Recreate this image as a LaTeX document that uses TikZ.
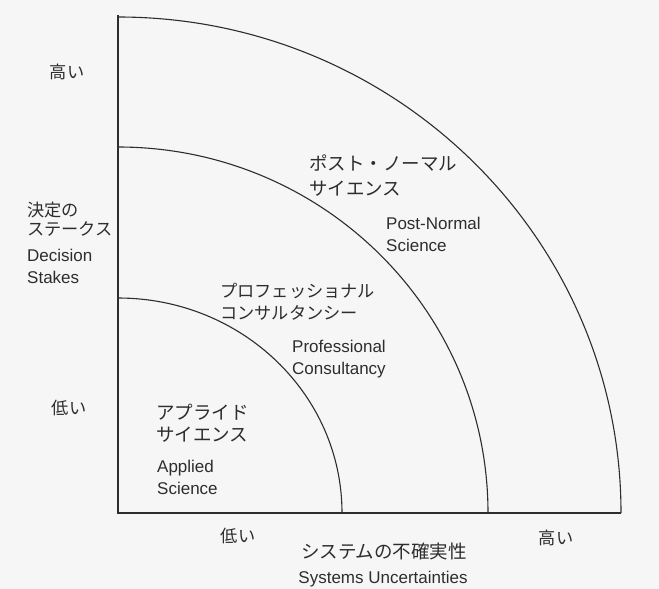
\documentclass[tikz,border=0pt]{standalone}
\usepackage{fontspec}
\setmainfont{Liberation Sans}
\newfontfamily\jp{Noto Sans CJK JP}
\definecolor{ink}{RGB}{45,45,45}
\definecolor{paper}{RGB}{246,246,246}
\begin{document}
\begin{tikzpicture}[x=1pt,y=-1pt,
  lbl/.style={inner sep=0pt, text height=0.72em, text depth=0pt, anchor=west, text=ink, yshift=-2.5pt},
  jl/.style={lbl, font=\jp\fontsize{17.2}{20}\selectfont},
  jb/.style={lbl, font=\jp\fontsize{18.5}{20}\selectfont},
  el/.style={lbl, font=\fontsize{17}{19}\selectfont},
  curve/.style={draw=ink, line width=1.1pt}]
\fill[paper] (0,0) rectangle (659,589);
\useasboundingbox (0,0) rectangle (659,589);
% axes
\coordinate (O) at (118,513);
\coordinate (top) at (118,15);
\coordinate (right) at (621,513);
\draw[curve] (top) -- (O) -- (right);
% arcs
\coordinate (outerStart) at (118,17);
\coordinate (midStart) at (118,147);
\coordinate (innerStart) at (118,298);
\draw[curve] (outerStart) arc[start angle=90, end angle=0, x radius=503pt, y radius=496pt];
\draw[curve] (midStart) arc[start angle=90, end angle=0, x radius=370pt, y radius=366pt];
\draw[curve] (innerStart) arc[start angle=90, end angle=0, x radius=224pt, y radius=215pt];
% vertical axis labels
\node[jl, anchor=center] (hiY) at (67,72) {高い};
\node[jl] (dec1) at (27,210) {決定の};
\node[jl] (dec2) at (27,229) {ステークス};
\node[el] (dec3) at (27,255) {Decision};
\node[el] (dec4) at (27,277) {Stakes};
\node[jl, anchor=center] (loY) at (69,408) {低い};
% regions
\node[jb] (ap1) at (156,413) {アプライド};
\node[jb] (ap2) at (156,435) {サイエンス};
\node[el] (ap3) at (157,466) {Applied};
\node[el] (ap4) at (157,488) {Science};
\node[jl] (pc1) at (220,291) {プロフェッショナル};
\node[jl] (pc2) at (220,313) {コンサルタンシー};
\node[el] (pc3) at (292,346) {Professional};
\node[el] (pc4) at (292,368) {Consultancy};
\node[jb] (pn1) at (309,164) {ポスト・ノーマル};
\node[jb] (pn2) at (309,189) {サイエンス};
\node[el] (pn3) at (386,223) {Post-Normal};
\node[el] (pn4) at (386,245) {Science};
% horizontal axis labels
\node[jl, anchor=center] (loX) at (238,536) {低い};
\node[jl, anchor=center] (hiX) at (556,538) {高い};
\node[jb, anchor=center] (sx1) at (384,552) {システムの不確実性};
\node[el, anchor=center] (sx2) at (383,577) {Systems Uncertainties};
\end{tikzpicture}
\end{document}
